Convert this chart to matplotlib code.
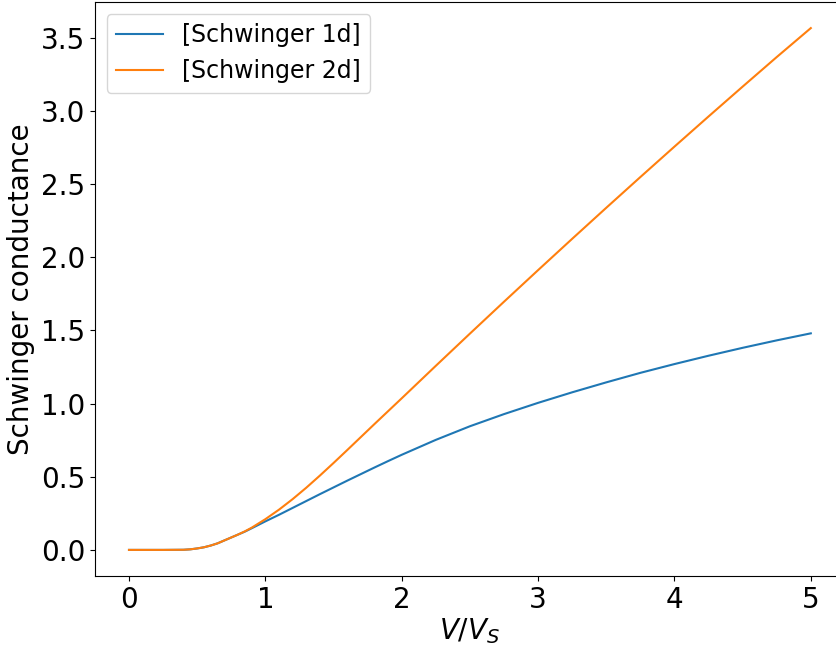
import matplotlib
matplotlib.use("Agg")
import matplotlib.pyplot as plt

# ── Data ──────────────────────────────────────────────────────────────────────
v_ratio = [0.0, 0.25, 0.4, 0.45, 0.5, 0.55, 0.6, 0.65, 0.7, 0.75, 0.8, 0.85,
           0.9, 1.0, 1.1, 1.2, 1.3, 1.4, 1.5, 1.6, 1.7, 1.8, 1.9,
           2.0, 2.25, 2.5, 2.75, 3.0, 3.25, 3.5, 3.75, 4.0, 4.25, 4.5, 4.75, 5.0]

schwinger_1d = [0.0, 0.0, 0.001, 0.004, 0.01, 0.018, 0.03, 0.045, 0.065, 0.085,
                0.105, 0.125, 0.148, 0.195, 0.24, 0.287, 0.334, 0.381, 0.427,
                0.473, 0.518, 0.563, 0.607, 0.65, 0.752, 0.845, 0.928, 1.005,
                1.077, 1.145, 1.21, 1.27, 1.327, 1.381, 1.432, 1.48]

schwinger_2d = [0.0, 0.0, 0.001, 0.004, 0.01, 0.018, 0.03, 0.045, 0.065, 0.085,
                0.105, 0.127, 0.152, 0.21, 0.275, 0.347, 0.425, 0.508, 0.594,
                0.682, 0.771, 0.86, 0.948, 1.036, 1.258, 1.478, 1.696, 1.912,
                2.126, 2.338, 2.548, 2.756, 2.962, 3.166, 3.368, 3.566]

labels = ["[Schwinger 1d]", "[Schwinger 2d]"]

# ── Plot ──────────────────────────────────────────────────────────────────────
fig = plt.figure(figsize=(8.36, 6.47), dpi=100)
ax = fig.add_axes([94.9 / 836, 71 / 647, 750 / 836, 574 / 647])

ax.plot(v_ratio, schwinger_1d, label=labels[0])
ax.plot(v_ratio, schwinger_2d, label=labels[1])

ax.set_xlabel(r"$V/V_S$", fontsize=20, labelpad=2)
ax.set_ylabel("Schwinger conductance", fontsize=20)
ax.tick_params(labelsize=20)
ax.legend(loc="upper left", fontsize=17)

fig.savefig("out.png", dpi=100)
plt.close(fig)
